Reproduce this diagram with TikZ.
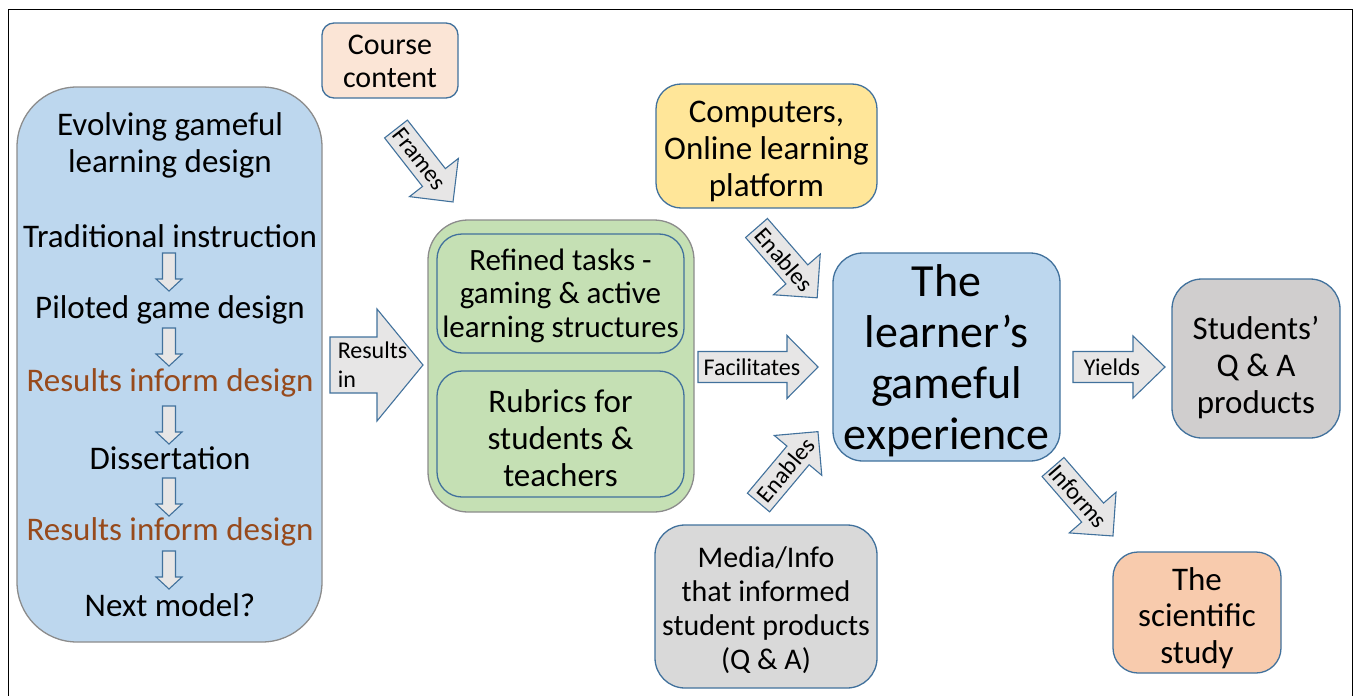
\documentclass[tikz,border=0pt]{standalone}
\usepackage{fontspec}
\setmainfont{Carlito}
\definecolor{bblue}{HTML}{41719C}
\definecolor{agray}{HTML}{E7E6E6}
\definecolor{lblue}{HTML}{BDD7EE}
\definecolor{peach}{HTML}{FBE5D6}
\definecolor{lgreen}{HTML}{C5E0B4}
\definecolor{lyellow}{HTML}{FFE699}
\definecolor{qgray}{HTML}{D0CECE}
\definecolor{mgray}{HTML}{D9D9D9}
\definecolor{salmon}{HTML}{F8CBAD}
\definecolor{brown}{HTML}{974A1C}
\definecolor{gborder}{HTML}{8C8C8C}
\newcommand{\fsz}[2]{\fontsize{#1}{#2}\selectfont}
% block arrow: name, tail, angle, length, shaft half, head half, head length, label pos, label
\newcommand{\barr}[9]{%
  \begin{scope}[shift={#2},rotate=#3]
    \draw[arrowshape] (0,-#5) -- ({#4-#7},-#5) -- ({#4-#7},-#6) -- (#4,0)
      -- ({#4-#7},#6) -- ({#4-#7},#5) -- (0,#5) -- cycle;
    \node[lbl,transform shape] (#1) at (#8,0) {#9};
  \end{scope}}
\begin{document}
\begin{tikzpicture}[x=1pt,y=-1pt,
  arrowshape/.style={draw=bblue,fill=agray,line width=1.1pt,line join=miter},
  lbl/.style={inner sep=0pt,align=left,font=\fsz{24}{29}},
  rbox/.style={draw=bblue,line width=1.3pt,align=center,inner sep=0pt},
  item/.style={inner sep=0pt,align=center,font=\fsz{33}{37}}]
\useasboundingbox (0,0) rectangle (1353,696);
% frame
\draw[line width=1pt] (8,702) -- (8,9) -- (1352,9) -- (1352,702);

% left box
\node[rbox,draw=gborder,fill=lblue,minimum width=305,minimum height=555,rounded corners=60] (design) at (169.5,364.5) {};
\node[item,font=\fsz{33}{37}] (title) at (170,145.5) {Evolving gameful\\learning design};
\node[item] (i1) at (170,236) {Traditional instruction};
\node[item] (i2) at (170,310) {Piloted game design};
\node[item,text=brown] (i3) at (170,383) {Results inform design};
\node[item] (i4) at (170,458) {Dissertation};
\node[item,text=brown] (i5) at (170,532) {Results inform design};
\node[item] (i6) at (170,605) {Next model?};
\barr{d1}{(169,253)}{-90}{38}{6.5}{13}{12}{0}{}
\barr{d2}{(169,328)}{-90}{38}{6.5}{13}{12}{0}{}
\barr{d3}{(169,406)}{-90}{38}{6.5}{13}{12}{0}{}
\barr{d4}{(169,478)}{-90}{38}{6.5}{13}{12}{0}{}
\barr{d5}{(169,551)}{-90}{38}{6.5}{13}{12}{0}{}

% course content
\node[rbox,fill=peach,minimum width=136,minimum height=75,rounded corners=12] (course) at (390,60.5) {};
\node[item,font=\fsz{30}{33}] (courseT) at (390,61) {Course\\content};

% green group
\node[rbox,draw=gborder,fill=lgreen,minimum width=266,minimum height=292,rounded corners=40] (group) at (561,366) {};
\node[rbox,fill=lgreen,minimum width=247,minimum height=119,rounded corners=25] (tasks) at (560.5,293.5) {};
\node[item,font=\fsz{31}{33.5}] (tasksT) at (560.5,295.5) {Refined tasks -\\gaming \& active\\learning structures};
\node[rbox,fill=lgreen,minimum width=247,minimum height=126,rounded corners=25] (rubrics) at (560.5,434) {};
\node[item,font=\fsz{33}{37}] (rubricsT) at (560.5,438) {Rubrics for\\students \&\\teachers};

% computers
\node[rbox,fill=lyellow,minimum width=221,minimum height=124,rounded corners=25] (comp) at (766.5,146) {};
\node[item,font=\fsz{33}{37}] (compT) at (766.5,151) {Computers,\\Online learning\\platform};

% media
\node[rbox,fill=mgray,minimum width=222,minimum height=163,rounded corners=30] (media) at (766,606.5) {};
\node[item,font=\fsz{30}{34}] (mediaT) at (766,610) {Media/Info\\that informed\\student products\\(Q \& A)};

% learner
\node[rbox,fill=lblue,minimum width=227,minimum height=208,rounded corners=30] (learner) at (946.5,357) {};
\node[item,font=\fsz{46}{51}] (learnerT) at (946.5,360.5) {The\\learner’s\\gameful\\experience};

% students
\node[rbox,fill=qgray,minimum width=168,minimum height=159,rounded corners=30] (students) at (1256,358.5) {};
\node[item,font=\fsz{33}{37}] (studentsT) at (1256,368) {Students’\\Q \& A\\products};

% scientific
\node[rbox,fill=salmon,minimum width=168,minimum height=121,rounded corners=25] (study) at (1197,612.5) {};
\node[item,font=\fsz{33}{36.5}] (studyT) at (1197,618) {The\\scientific\\study};

% block arrows with labels
\barr{frames}{(396,129)}{-52}{92.6}{14.5}{31}{31}{38}{Frames}
\barr{resultsin}{(330,365)}{0}{93}{28}{56}{46}{42.5}{Results\\in}
\barr{facil}{(698,367)}{0}{120}{15.5}{31.5}{31}{54}{Facilitates}
\barr{enab1}{(756.5,228)}{-49}{92.5}{14.5}{31}{31}{42}{Enables}
\barr{enab2}{(758.5,502.5)}{50}{92.5}{14.5}{31}{31}{42.5}{Enables}
\barr{yields}{(1073,367)}{0}{92}{15.5}{31}{32}{39}{Yields}
\barr{informs}{(1053,467)}{-49}{91.4}{14.5}{31}{31}{39}{Informs}
\end{tikzpicture}
\end{document}
